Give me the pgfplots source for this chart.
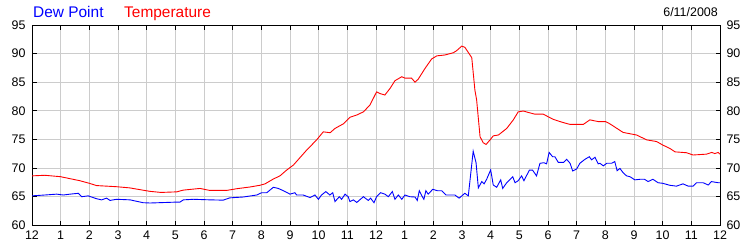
\documentclass[border=0pt]{standalone}
\usepackage{fontspec}
\setmainfont{Liberation Sans}
\usepackage{pgfplots}
\pgfplotsset{compat=1.18}
\begin{document}
\begin{tikzpicture}
\path[use as bounding box] (-32bp,-25bp) rectangle (718bp,225bp);
\begin{axis}[at={(0,0)}, anchor=south west, scale only axis,
  width=688bp, height=200bp,
  xmin=0, xmax=24, ymin=60, ymax=95,
  xtick={0,...,24},
  xticklabels={12,1,2,3,4,5,6,7,8,9,10,11,12,1,2,3,4,5,6,7,8,9,10,11,12},
  ytick={60,65,...,95},
  grid=major, grid style={color=black!20, line width=0.7bp},
  tick style={black, line width=0.7bp}, major tick length=4.5bp, tick align=inside,
  axis line style={black, line width=0.9bp},
  /pgf/number format/assume math mode=true,
  ticklabel style={font=\fontsize{12.5}{14}\selectfont},
  yticklabel style={xshift=-3bp},
  xticklabel style={yshift=-2bp},
  clip=true]
\addplot[red, line width=0.9bp] coordinates {
(0,68.6) (0.45,68.7) (1.0,68.45) (1.67,67.75) (2.0,67.3) (2.25,66.9) (2.95,66.7) (3.4,66.5) (4.1,65.9) (4.5,65.7) (5.05,65.8) (5.27,66.1) (5.86,66.4) (6.2,66.05) (6.79,66.05) (7.14,66.35) (7.6,66.65) (7.95,66.95) (8.13,67.2) (8.3,67.7) (8.42,68.05) (8.65,68.6) (8.88,69.6) (9.12,70.5) (9.35,71.8) (9.58,73.1) (9.93,74.9) (10.16,76.3) (10.4,76.15) (10.57,76.9) (10.86,77.7) (11.09,78.85) (11.33,79.25) (11.56,79.8) (11.79,81.0) (12.02,83.3) (12.14,83.0) (12.31,82.75) (12.49,83.9) (12.66,85.25) (12.9,85.95) (13.01,85.7) (13.24,85.7) (13.36,85.0) (13.47,85.5) (13.71,87.4) (13.94,89.05) (14.12,89.6) (14.4,89.75) (14.7,90.15) (14.81,90.5) (14.99,91.3) (15.1,91.1) (15.28,89.75) (15.34,89.3) (15.45,83.6) (15.51,81.9) (15.63,75.45) (15.74,74.4) (15.84,74.1) (15.98,74.9) (16.09,75.6) (16.27,75.75) (16.56,76.9) (16.79,78.4) (16.96,79.8) (17.14,79.95) (17.31,79.7) (17.54,79.4) (17.83,79.4) (18.18,78.5) (18.48,78.0) (18.77,77.6) (19.23,77.6) (19.46,78.4) (19.75,78.1) (20.01,78.1) (20.16,77.7) (20.62,76.2) (21.09,75.75) (21.44,74.9) (21.79,74.6) (22.0,74.0) (22.25,73.4) (22.43,72.8) (22.83,72.65) (23.06,72.25) (23.53,72.4) (23.71,72.7) (23.82,72.5) (23.94,72.7) (24,72.4)
};
\addplot[blue, line width=0.9bp] coordinates {
(0,65.1) (0.45,65.25) (0.86,65.4) (1.09,65.25) (1.33,65.4) (1.62,65.55) (1.73,64.95) (1.96,65.1) (2.25,64.6) (2.43,64.4) (2.6,64.7) (2.72,64.3) (2.95,64.5) (3.42,64.4) (3.88,63.9) (4.12,63.85) (5.0,64.0) (5.16,64.0) (5.28,64.4) (5.63,64.5) (6.21,64.4) (6.67,64.35) (6.9,64.75) (7.37,64.9) (7.84,65.25) (8.01,65.65) (8.19,65.65) (8.42,66.6) (8.59,66.4) (8.77,66.0) (9.0,65.4) (9.17,65.65) (9.23,65.25) (9.46,65.25) (9.7,64.8) (9.87,65.25) (9.99,64.5) (10.1,65.25) (10.25,65.85) (10.39,65.25) (10.49,65.65) (10.57,64.1) (10.72,64.95) (10.8,64.5) (10.92,65.4) (11.03,64.95) (11.09,64.1) (11.21,64.4) (11.33,63.95) (11.56,64.95) (11.73,64.3) (11.81,64.7) (11.93,63.9) (12.02,64.95) (12.16,65.65) (12.31,65.4) (12.43,64.95) (12.57,65.85) (12.66,64.5) (12.78,65.25) (12.9,64.5) (13.01,65.25) (13.18,64.95) (13.36,64.9) (13.44,64.3) (13.51,66.0) (13.6,65.1) (13.67,64.5) (13.74,66.0) (13.82,65.4) (13.98,66.25) (14.14,66.0) (14.29,66.0) (14.44,65.25) (14.75,65.25) (14.9,64.7) (15.1,65.55) (15.22,65.1) (15.39,72.9) (15.49,70.9) (15.57,66.5) (15.69,67.6) (15.77,67.2) (15.86,68.0) (16.0,69.65) (16.09,67.0) (16.21,66.6) (16.35,67.9) (16.42,66.4) (16.56,67.4) (16.77,68.45) (16.85,67.4) (16.96,67.75) (17.08,68.6) (17.16,67.75) (17.35,69.6) (17.46,69.6) (17.6,68.6) (17.72,70.8) (17.86,70.9) (17.95,70.7) (18.04,72.7) (18.16,71.95) (18.24,71.95) (18.36,70.95) (18.54,70.95) (18.65,71.5) (18.77,70.8) (18.86,69.45) (19.0,69.8) (19.11,70.8) (19.29,71.5) (19.44,71.95) (19.52,71.4) (19.64,71.85) (19.75,70.7) (19.81,70.8) (19.93,70.35) (20.05,70.8) (20.22,70.8) (20.33,71.1) (20.41,69.5) (20.51,69.9) (20.62,69.15) (20.74,68.6) (20.86,68.45) (21.03,67.9) (21.21,68.0) (21.37,68.0) (21.49,67.6) (21.66,68.0) (21.84,67.4) (22.0,67.3) (22.25,66.95) (22.48,66.8) (22.71,67.2) (22.89,66.8) (23.06,66.8) (23.18,67.4) (23.41,67.4) (23.59,67.0) (23.7,67.6) (23.94,67.4) (24,67.4)
};
\end{axis}
\begin{axis}[at={(0,0)}, anchor=south west, scale only axis,
  width=688bp, height=200bp,
  xmin=0, xmax=24, ymin=60, ymax=95,
  xtick=\empty, ytick={60,65,...,95},
  yticklabel pos=right,
  axis line style={draw=none}, major tick length=0pt,
  /pgf/number format/assume math mode=true,
  ticklabel style={font=\fontsize{12.5}{14}\selectfont},
  yticklabel style={xshift=3bp}]
\end{axis}
\node[anchor=base west, text=blue, font=\fontsize{15.5}{18}\selectfont, inner sep=0pt] at (1bp,207bp) {Dew Point};
\node[anchor=base west, text=red, font=\fontsize{15.5}{18}\selectfont, inner sep=0pt] at (92bp,207bp) {Temperature};
\node[anchor=base east, text=black, font=\fontsize{12.5}{14}\selectfont, inner sep=0pt] at (686bp,208bp) {6/11/2008};
\end{tikzpicture}
\end{document}
